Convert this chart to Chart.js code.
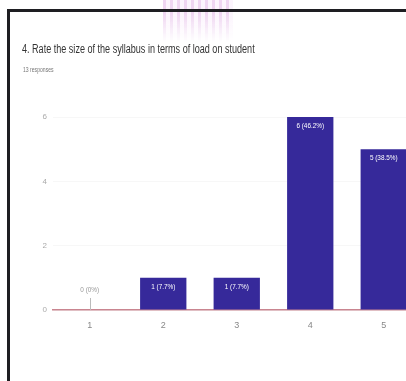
<!DOCTYPE html>
<html><head><meta charset="utf-8">
<script src="https://cdn.jsdelivr.net/npm/chart.js@4/dist/chart.umd.min.js"></script>
<style>
html,body{margin:0;padding:0;background:#fff;overflow:hidden;width:406px;height:381px;}
#wrap{position:absolute;left:0;top:0;width:440px;height:381px;}
#frameTop{position:absolute;left:7px;top:9px;width:420px;height:3px;background:#1e1e22;}
#frameLeft{position:absolute;left:7px;top:9px;width:3px;height:380px;background:#1e1e22;}
#streak{position:absolute;left:163px;top:0;width:70px;height:42px;
 background:repeating-linear-gradient(90deg,rgba(190,90,200,0.25) 0 3px,rgba(220,150,230,0.1) 3px 7px);
 -webkit-mask-image:linear-gradient(180deg,#000 30%,transparent);filter:blur(0.6px);}
#title{position:absolute;left:22px;top:42px;font-family:"Liberation Sans",sans-serif;font-size:12px;color:#333;white-space:nowrap;transform:scaleX(0.755);transform-origin:0 0;}
#sub{position:absolute;left:23px;top:65px;font-family:"Liberation Sans",sans-serif;font-size:7.5px;color:#777;white-space:nowrap;transform:scaleX(0.68);transform-origin:0 0;}
</style></head>
<body>
<div id="streak"></div>
<div id="wrap"><canvas id="c" width="440" height="381"></canvas></div>
<div id="frameTop"></div>
<div id="frameLeft"></div>
<div id="title">4. Rate the size of the syllabus in terms of load on student</div>
<div id="sub">13 responses</div>
<script>
const categories = ["1","2","3","4","5"];
const counts = [0,1,1,6,5];
const percentLabels = ["0%","7.7%","7.7%","46.2%","38.5%"];
const yTicks = [0,2,4,6];

const FONT = '"Liberation Sans",sans-serif';

const labelPlugin = {
  id:'barLabels',
  afterDatasetsDraw(chart){
    const ctx = chart.ctx;
    const meta = chart.getDatasetMeta(0);
    meta.data.forEach((bar,i)=>{
      const txt = counts[i] + ' (' + percentLabels[i] + ')';
      ctx.save();
      ctx.font = '8px ' + FONT;
      ctx.textAlign = 'center';
      ctx.textBaseline = 'middle';
      let ty;
      if(counts[i] === 0){
        ctx.strokeStyle = '#bbb';
        ctx.lineWidth = 1;
        ctx.beginPath();
        ctx.moveTo(Math.round(bar.x)+0.5, bar.y);
        ctx.lineTo(Math.round(bar.x)+0.5, bar.y - 12);
        ctx.stroke();
        ctx.fillStyle = '#999';
        ty = bar.y - 20;
      } else {
        ctx.fillStyle = '#fff';
        ty = bar.y + 9;
      }
      ctx.translate(bar.x, ty);
      ctx.scale(0.8, 1);
      ctx.fillText(txt, 0, 0);
      ctx.restore();
    });
  }
};

new Chart(document.getElementById('c'), {
  type:'bar',
  data:{
    labels:categories,
    datasets:[{data:counts, backgroundColor:'#36299a', borderWidth:0,
      categoryPercentage:1, barPercentage:0.63}]
  },
  options:{
    responsive:false, animation:false,
    layout:{padding:{top:117,bottom:41,left:0,right:19.5}},
    plugins:{legend:{display:false},tooltip:{enabled:false}},
    scales:{
      x:{
        grid:{display:false, drawTicks:false},
        border:{display:true,color:'#c98590',width:1.5},
        ticks:{color:'#888',font:{family:FONT,size:9},padding:10},
        afterFit(s){s.height=30;}
      },
      y:{
        min:0,max:6,
        afterBuildTicks(s){s.ticks = yTicks.map(v=>({value:v}));},
        grid:{display:true,color:'rgba(0,0,0,0.03)',drawTicks:false},
        border:{display:false},
        ticks:{color:'#aaa',font:{family:FONT,size:8},padding:6},
        afterFit(s){s.width=53;}
      }
    }
  },
  plugins:[labelPlugin]
});
</script>
</body></html>
